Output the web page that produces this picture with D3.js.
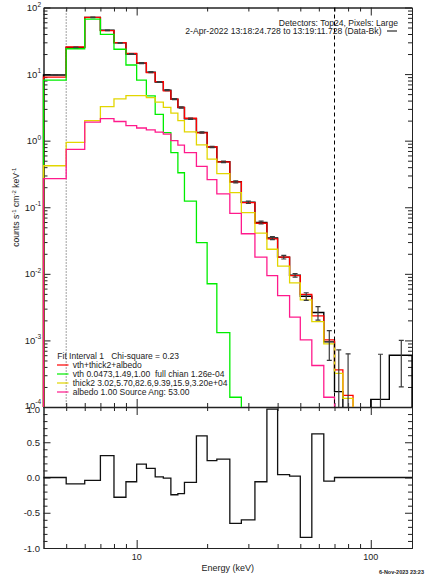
<!DOCTYPE html>
<html>
<head>
<meta charset="UTF-8">
<title>STIX spectrum fit</title>
<style>
  body { margin: 0; background: #fff; }
  svg { display: block; background: #fff; font-family: "Liberation Sans", Arial, sans-serif; }
  text { fill: #222; }
</style>
</head>
<body>
<svg></svg>
<script src="https://d3js.org/d3.v7.min.js"></script>
<script>

let width = 425, height = 574;

// energy bin edges (keV)
let edges = [4,5,6,7,8,9,10,11,12,13,14,15,16,18,20,22,25,28,32,36,40,45,50,56,63,70,76,84,100,120,150];

// data - background (counts s-1 cm-2 keV-1), one per bin
let dataVals = [9.7,25.2,71,45.5,29.4,20.0,14.6,10.7,7.6,5.74,4.2,3.15,2.13,1.33,0.805,0.482,0.241,0.119,0.059,0.0345,
                0.0178,0.0095,0.0046,0.00262,0.00095,0.00017,0.00008,-0.0004,0.00013,0.0006];
let dataErr = [0.15,0.3,0.6,0.45,0.35,0.28,0.22,0.17,0.13,0.1,0.08,0.065,0.045,0.03,0.02,0.013,0.008,0.005,0.003,0.0018,
               0.0011,0.0006,0.0006,0.0006,0.00045,0.00055,0.00055,0.0003,0.00049,0.0004];

// model components (plotted up to 84 keV)
let totalVals  = [9.0,25.5,71,44.8,29.6,20.4,14.7,10.5,7.7,5.6,4.2,3.16,2.17,1.31,0.81,0.48,0.24,0.117,0.0575,0.0334,
                  0.0178,0.0094,0.0049,0.00233,0.00102,0.00036,0.00015,null,null,null];
let vthVals    = [8.1,24,67,39.6,23.6,13.7,8.1,4.7,2.49,1.32,0.66,0.33,0.124,0.0295,0.0071,0.00131,0.00014,0.00001,0.000001,0.0000001,
                  1e-8,1e-9,1e-10,1e-11,1e-12,1e-13,1e-14,null,null,null];
let thickVals  = [0.42,0.94,2.0,3.24,4.23,4.74,4.74,4.43,3.78,3.17,2.6,2.0,1.36,0.865,0.53,0.32,0.166,0.083,0.041,0.0234,
                  0.0131,0.0073,0.00406,0.00191,0.00089,0.00032,0.000135,null,null,null];
let albedoVals = [0.27,0.74,1.9,2.15,1.94,1.68,1.55,1.45,1.34,1.25,1.0,0.86,0.66,0.41,0.26,0.159,0.081,0.040,0.0178,0.0094,
                  0.0047,0.00224,0.00102,0.00042,0.00014,0.00004,0.000015,null,null,null];

// normalised residuals
let resid = [0.0,-0.09,-0.04,0.31,-0.28,-0.06,0.19,0.13,0.01,-0.01,-0.245,-0.23,-0.07,0.59,0.24,0.26,-0.65,-0.60,-0.06,0.97,
             0.04,0.02,-0.85,0.62,-0.05,0.0,0.0,0.0,0.0,0.0];

let yExponents = [-4,-3,-2,-1,0,1,2];
let residLabels = ["-1.0","-0.5","0.0","0.5","1.0"];
let residMajor = [-1,-0.5,0,0.5,1];
let xMajor = [10,100];
let xMinor = [5,6,7,8,9,20,30,40,50,60,70,80,90];

let legendNames = ["vth+thick2+albedo",
                   "vth 0.0473,1.49,1.00  full chian 1.26e-04",
                   "thick2 3.02,5.70,82.6,9.39,15.9,3.20e+04",
                   "albedo 1.00 Source Ang: 53.00"];
let colors = ["#ff0000","#00ee00","#e2d600","#ff1a8c"];

let svg = d3.select("svg").attr("width", width).attr("height", height);

let pLeft = 43.5, pRight = 412, pTop = 7.5, pMid = 407, pBottom = 548;

let x = d3.scaleLog().domain([4,150]).range([pLeft,pRight]);
let y = d3.scaleLog().domain([1e-4,1e2]).range([pMid,pTop]);
let yr = d3.scaleLinear().domain([-1,1]).range([pBottom,pMid]);

// minor tick lists
let yMinor = [];
for (let e = -4; e < 2; e++) for (let k = 2; k < 10; k++) yMinor.push(k*Math.pow(10,e));
let yMajorVals = yExponents.map(e => Math.pow(10,e));
let rMinor = d3.range(-10,11).map(d => d/10).filter(d => Math.abs(d*2 - Math.round(d*2)) > 1e-6);

function tickAxis(axis, vals, size, tx, ty) {
  let g = svg.append("g").attr("transform", "translate(" + tx + "," + ty + ")")
    .call(axis.tickValues(vals).tickSize(size).tickSizeOuter(0).tickFormat(""));
  g.selectAll("line").attr("stroke", "#222");
  g.select(".domain").attr("stroke", "#222");
  return g;
}

// top panel frame + ticks
tickAxis(d3.axisLeft(y), yMajorVals, -7, pLeft, 0);
tickAxis(d3.axisLeft(y), yMinor, -4, pLeft, 0);
tickAxis(d3.axisRight(y), yMajorVals, -7, pRight, 0);
tickAxis(d3.axisRight(y), yMinor, -4, pRight, 0);
tickAxis(d3.axisTop(x), xMajor, -8, 0, pTop);
tickAxis(d3.axisTop(x), xMinor, -4, 0, pTop);
tickAxis(d3.axisBottom(x), xMajor, -8, 0, pMid).select(".domain").attr("stroke-width", 1.6);
tickAxis(d3.axisBottom(x), xMinor, -4, 0, pMid);

// residual panel frame + ticks
tickAxis(d3.axisLeft(yr), residMajor, -7, pLeft, 0);
tickAxis(d3.axisLeft(yr), rMinor, -4, pLeft, 0);
tickAxis(d3.axisRight(yr), residMajor, -7, pRight, 0);
tickAxis(d3.axisRight(yr), rMinor, -4, pRight, 0);
tickAxis(d3.axisTop(x), xMajor, -8, 0, pMid);
tickAxis(d3.axisTop(x), xMinor, -4, 0, pMid);
tickAxis(d3.axisBottom(x), xMajor, -8, 0, pBottom);
tickAxis(d3.axisBottom(x), xMinor, -4, 0, pBottom);

// y tick labels (10^n)
yExponents.forEach(e => {
  let t = svg.append("text")
    .attr("x", pLeft - 2.5)
    .attr("y", y(Math.pow(10,e)) + (e === -4 ? 1.5 : 3.5))
    .attr("text-anchor", "end")
    .style("font-size", "9.5px");
  t.append("tspan").text("10");
  t.append("tspan").attr("dy", -4.5).style("font-size", "6.5px").text(e);
});

residMajor.forEach((v,i) => {
  svg.append("text")
    .attr("x", pLeft - 3.5)
    .attr("y", yr(v) + (v === 1 ? 6 : 3.5))
    .attr("text-anchor", "end")
    .style("font-size", "9.5px")
    .text(residLabels[i]);
});

xMajor.forEach(v => {
  svg.append("text")
    .attr("x", x(v))
    .attr("y", 560)
    .attr("text-anchor", "middle")
    .style("font-size", "9px")
    .text(v);
});

svg.append("text")
  .attr("x", (pLeft+pRight)/2)
  .attr("y", 570.5)
  .attr("text-anchor", "middle")
  .style("font-size", "9px")
  .text("Energy (keV)");

let yl = svg.append("text")
  .attr("transform", "translate(18.5," + ((pTop+pMid)/2) + ") rotate(-90)")
  .attr("text-anchor", "middle")
  .style("font-size", "8.6px");
yl.append("tspan").text("counts s");
yl.append("tspan").attr("dy", -3).style("font-size", "6px").text("-1");
yl.append("tspan").attr("dy", 3).text(" cm");
yl.append("tspan").attr("dy", -3).style("font-size", "6px").text("-2");
yl.append("tspan").attr("dy", 3).text(" keV");
yl.append("tspan").attr("dy", -3).style("font-size", "6px").text("-1");

// header text
svg.append("text").attr("x", 398).attr("y", 25.5).attr("text-anchor", "end")
  .style("font-size", "8.6px").text("Detectors: Top24, Pixels: Large");
svg.append("text").attr("x", 381.5).attr("y", 34).attr("text-anchor", "end")
  .style("font-size", "8.6px").text("2-Apr-2022 13:18:24.728 to 13:19:11.728 (Data-Bk)");
svg.append("line").attr("x1", 387).attr("x2", 397).attr("y1", 31).attr("y2", 31)
  .attr("stroke", "#000").attr("stroke-width", 1);

// clip for spectrum panel
svg.append("clipPath").attr("id", "clipTop")
  .append("rect").attr("x", pLeft - 1.5).attr("y", pTop).attr("width", pRight - pLeft + 3).attr("height", pMid - pTop);

let plot = svg.append("g").attr("clip-path", "url(#clipTop)");
let below = pMid + 30;

function stepPoints(vals) {
  let pts = [[x(edges[0]), below]];
  for (let i = 0; i < vals.length; i++) {
    if (vals[i] === null) { pts.push([x(edges[i]), below]); return pts; }
    let yy = vals[i] > 0 ? Math.min(y(vals[i]), below) : below;
    pts.push([x(edges[i]), yy], [x(edges[i+1]), yy]);
  }
  pts.push([x(edges[vals.length]), below]);
  return pts;
}

let line = d3.line();

// fit range markers
plot.append("line").attr("x1", x(5)).attr("x2", x(5)).attr("y1", pTop).attr("y2", pMid)
  .attr("stroke", "#444").attr("stroke-dasharray", "1,2").attr("stroke-width", 1);

plot.append("path").attr("d", line(stepPoints(dataVals)))
  .attr("fill", "none").attr("stroke", "#000").attr("stroke-width", 1.4);

[totalVals, vthVals, thickVals, albedoVals].forEach((vals,i) => {
  plot.append("path").attr("d", line(stepPoints(vals)))
    .attr("fill", "none").attr("stroke", colors[i]).attr("stroke-width", 1.3);
});

// error bars
dataVals.forEach((d,i) => {
  let cx = x((edges[i] + edges[i+1]) / 2);
  let lo = d - dataErr[i], hi = d + dataErr[i];
  if (hi <= 1e-4) return;
  let y1 = lo > 0 ? y(lo) : below, y2 = y(hi);
  plot.append("line").attr("x1", cx).attr("x2", cx).attr("y1", y1).attr("y2", y2)
    .attr("stroke", "#3a3a3a").attr("stroke-width", 1.2);
  [y1, y2].forEach(yy => {
    plot.append("line").attr("x1", cx - 2.5).attr("x2", cx + 2.5).attr("y1", yy).attr("y2", yy)
      .attr("stroke", "#3a3a3a").attr("stroke-width", 1.2);
  });
});

plot.append("line").attr("x1", x(70)).attr("x2", x(70)).attr("y1", pTop).attr("y2", pMid)
  .attr("stroke", "#000").attr("stroke-dasharray", "4,3").attr("stroke-width", 1);

// legend
svg.append("text").attr("x", 57.3).attr("y", 358.7).style("font-size", "8.5px")
  .style("white-space", "pre").text("Fit Interval 1   Chi-square = 0.23");
legendNames.forEach((name,i) => {
  let yy = 365 + i*9;
  svg.append("line").attr("x1", 57).attr("x2", 68.5).attr("y1", yy).attr("y2", yy)
    .attr("stroke", colors[i]).attr("stroke-width", 1.2);
  svg.append("text").attr("x", 72.7).attr("y", yy + 3).style("font-size", "8.5px")
    .style("white-space", "pre").text(name);
});

// residual panel
let rPts = [];
resid.forEach((r,i) => { rPts.push([x(edges[i]), yr(r)], [x(edges[i+1]), yr(r)]); });
svg.append("path").attr("d", line(rPts))
  .attr("fill", "none").attr("stroke", "#111").attr("stroke-width", 1.3);

// plot date stamp
svg.append("text").attr("x", 379).attr("y", 574).style("font-size", "5.5px").style("font-weight", "bold")
  .text("6-Nov-2023 23:23");

</script>
</body>
</html>
